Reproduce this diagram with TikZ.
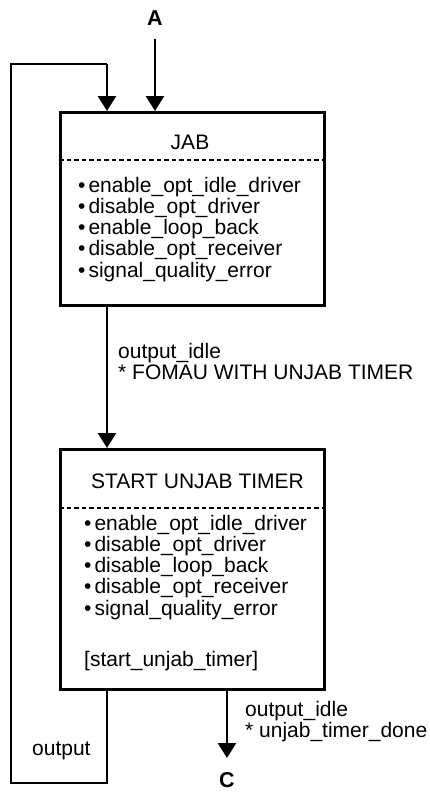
\documentclass[tikz,border=0pt]{standalone}
\usepackage{fontspec}
\setmainfont{Liberation Sans}
\usetikzlibrary{arrows.meta}
\tikzset{
  conn/.style={line width=2.5pt, -{Triangle[width=18pt,length=15pt]}},
  plainline/.style={line width=2.5pt},
  statebox/.style={draw, line width=2.5pt, minimum width=264pt, anchor=north west, inner sep=0pt},
  sep/.style={line width=1.4pt, dash pattern=on 4.5pt off 3pt},
  txt/.style={font=\fontsize{21}{21.3}\selectfont, inner sep=0pt, align=left},
  lbl/.style={font=\fontsize{21.5}{22}\selectfont\bfseries, inner sep=0pt}
}
\newcommand{\bul}{\textbullet\hspace{3pt}}
\begin{document}
\begin{tikzpicture}[x=1pt,y=-1pt]
\useasboundingbox (0,0) rectangle (430,795);
% boxes
\node[statebox, minimum height=193pt] (jab) at (59,111) {};
\node[statebox, minimum height=240pt] (sut) at (59,448) {};
% separators
\draw[sep] (jab.north west |- 0,160) -- (jab.north east |- 0,160);
\draw[sep] (sut.north west |- 0,508) -- (sut.north east |- 0,508);
% titles
\node[txt, anchor=base] (jabt) at (190,149) {JAB};
\node[txt, anchor=base] (sutt) at (197.5,488) {START UNJAB TIMER};
% action lists (anchor at baseline of last line)
\node[txt, anchor=base west] (jabl) at (78,277.2) {\bul enable\_opt\_idle\_driver\\
\bul disable\_opt\_driver\\
\bul enable\_loop\_back\\
\bul disable\_opt\_receiver\\
\bul signal\_quality\_error};
\node[txt, anchor=base west] (sutl) at (84,615.2) {\bul enable\_opt\_idle\_driver\\
\bul disable\_opt\_driver\\
\bul disable\_loop\_back\\
\bul disable\_opt\_receiver\\
\bul signal\_quality\_error};
\node[txt, anchor=base west] (sutx) at (84,666) {[start\_unjab\_timer]};
% A and C
\node[lbl] (A) at (155,18) {A};
\node[lbl] (C) at (227,780) {C};
\coordinate (atop) at (155,39);
\draw[conn] (atop) -- (jab.north west -| atop);
% JAB -> START
\draw[conn] (jab.south west -| 107,0) -- (sut.north west -| 107,0);
\node[txt, anchor=base west] (l1) at (118,379.3) {output\_idle\\* FOMAU WITH UNJAB TIMER};
% START -> C
\draw[conn] (sut.south west -| 227,0) -- (227,758) coordinate (cend);
\node[txt, anchor=base west] (l2) at (245,737.3) {output\_idle\\* unjab\_timer\_done};
% loop
\coordinate (lb1) at (107,783);
\coordinate (lb2) at (11,783);
\coordinate (lt1) at (11,64);
\coordinate (lt2) at (107,64);
\draw[plainline, line join=miter] (sut.south west -| lb1) -- (lb1) -- (lb2) -- (lt1) -- (lt2);
\draw[conn] (lt2) -- (jab.north west -| lt2);
\node[txt, anchor=base west] (lo) at (32,755) {output};
\end{tikzpicture}
\end{document}
